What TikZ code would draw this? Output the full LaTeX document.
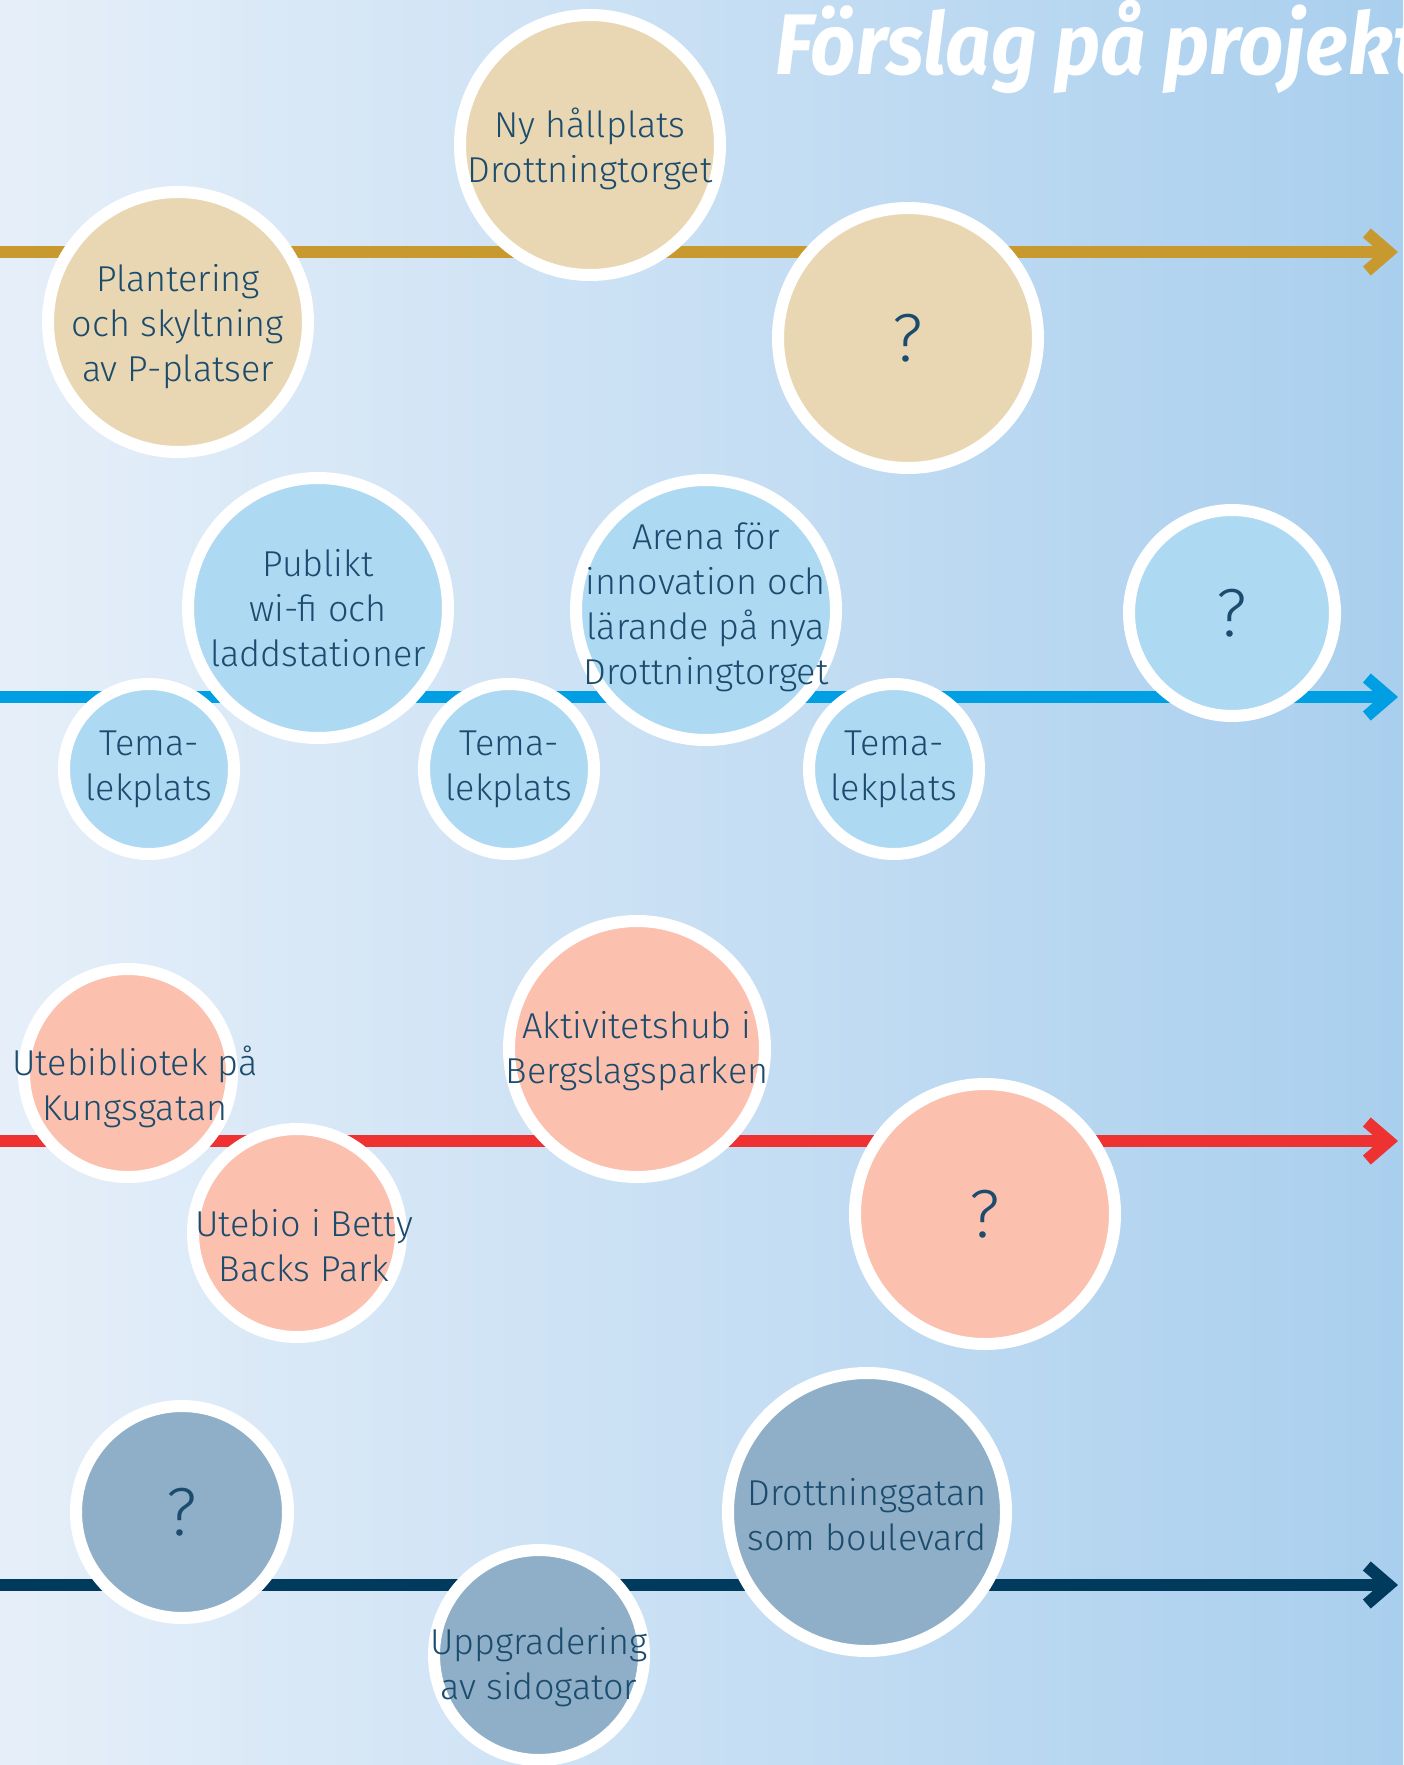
\documentclass[tikz,border=0pt]{standalone}
\usepackage{fontspec}
\setmainfont{Fira Sans}[UprightFont=* Light,BoldItalicFont=* Bold Italic]
\usetikzlibrary{arrows.meta}
\definecolor{bgleft}{HTML}{E6EFF9}
\definecolor{bgright}{HTML}{A9CFEE}
\definecolor{inktext}{HTML}{1B4B6D}
\definecolor{goldline}{HTML}{C8992E}
\definecolor{goldfill}{HTML}{E9D7B3}
\definecolor{blueline}{HTML}{009FE3}
\definecolor{bluefill}{HTML}{AED9F3}
\definecolor{redline}{HTML}{EE3131}
\definecolor{redfill}{HTML}{FBC1AE}
\definecolor{navyline}{HTML}{003A5D}
\definecolor{navyfill}{HTML}{8EAFC7}

\tikzset{
    ring/.style={circle,draw=white,line width=6pt,inner sep=0pt,minimum size=#1},
    lbl/.style={text=inktext,align=center,inner sep=0pt,font=\fontsize{18pt}{22.5pt}\selectfont},
    qmark/.style={text=inktext,inner sep=0pt,font=\fontsize{34pt}{40pt}\selectfont},
    track/.style={line width=6pt,-{Straight Barb[length=11pt,width=19pt]}}
}

\begin{document}
\begin{tikzpicture}[x=0.5pt,y=-0.5pt]
        \useasboundingbox (0,0) rectangle (1403,1765);
        \clip (0,0) rectangle (1403,1765);
        \shade[left color=bgleft,right color=bgright] (0,0) rectangle (1403,1765);
        \node[anchor=base west,inner sep=0pt,text=white,font=\fontsize{43pt}{50pt}\selectfont\bfseries\itshape] (title) at (775,75) {\scalebox{0.92}[1]{Förslag på projekt}};
        % gold row
        \coordinate (g0) at (0,252);
        \coordinate (g1) at (1398,252);
        \draw[track,goldline] (g0) -- (g1);
        \node[ring=130pt,fill=goldfill] (plant) at (178,322) {};
        \node[ring=130pt,fill=goldfill] (hall) at (590,145) {};
        \node[ring=130pt,fill=goldfill] (gq) at (908,338) {};
        \node[lbl] (plant-t) at (178,327) {Plantering\\och skyltning\\av P-platser};
        \node[lbl] (hall-t) at (590,149) {Ny hållplats\\Drottningtorget};
        \node[qmark] (gq-t) at (gq) {?};
        % blue row
        \coordinate (b0) at (0,697);
        \coordinate (b1) at (1398,697);
        \draw[track,blueline] (b0) -- (b1);
        \node[ring=130pt,fill=bluefill] (wifi) at (318,608) {};
        \node[ring=130pt,fill=bluefill] (arena) at (706,610) {};
        \node[ring=103pt,fill=bluefill] (bq) at (1232,613) {};
        \node[ring=85pt,fill=bluefill] (tema1) at (149,769) {};
        \node[ring=85pt,fill=bluefill] (tema2) at (509,769) {};
        \node[ring=85pt,fill=bluefill] (tema3) at (894,769) {};
        \node[lbl] (wifi-t) at (wifi) {Publikt\\wi-fi och\\laddstationer};
        \node[lbl] (arena-t) at (706,607) {Arena för\\innovation och\\lärande på nya\\Drottningtorget};
        \node[qmark] (bq-t) at (bq) {?};
        \node[lbl] (tema1-t) at (tema1) {Tema-\\lekplats};
        \node[lbl] (tema2-t) at (tema2) {Tema-\\lekplats};
        \node[lbl] (tema3-t) at (tema3) {Tema-\\lekplats};
        % red row
        \coordinate (r0) at (0,1141);
        \coordinate (r1) at (1398,1141);
        \draw[track,redline] (r0) -- (r1);
        \node[ring=104pt,fill=redfill] (bibl) at (128,1073) {};
        \node[ring=128pt,fill=redfill] (hub) at (637,1049) {};
        \node[ring=130pt,fill=redfill] (rq) at (985,1214) {};
        \node[ring=104pt,fill=redfill] (bio) at (297,1233) {};
        \node[lbl] (bibl-t) at (135,1087) {Utebibliotek på\\Kungsgatan};
        \node[lbl] (hub-t) at (637,1051) {Aktivitetshub i\\Bergslagsparken};
        \node[qmark] (rq-t) at (rq) {?};
        \node[lbl] (bio-t) at (304,1246) {Utebio i Betty\\Backs Park};
        % navy row
        \coordinate (n0) at (0,1585);
        \coordinate (n1) at (1398,1585);
        \draw[track,navyline] (n0) -- (n1);
        \node[ring=106pt,fill=navyfill] (nq) at (182,1512) {};
        \node[ring=105pt,fill=navyfill] (sido) at (539,1655) {};
        \node[ring=139pt,fill=navyfill] (boul) at (867,1512) {};
        \node[qmark] (nq-t) at (nq) {?};
        \node[lbl] (sido-t) at (539,1667) {Uppgradering\\av sidogator};
        \node[lbl] (boul-t) at (867,1515) {Drottninggatan\\som boulevard};
    \end{tikzpicture}
\end{document}
